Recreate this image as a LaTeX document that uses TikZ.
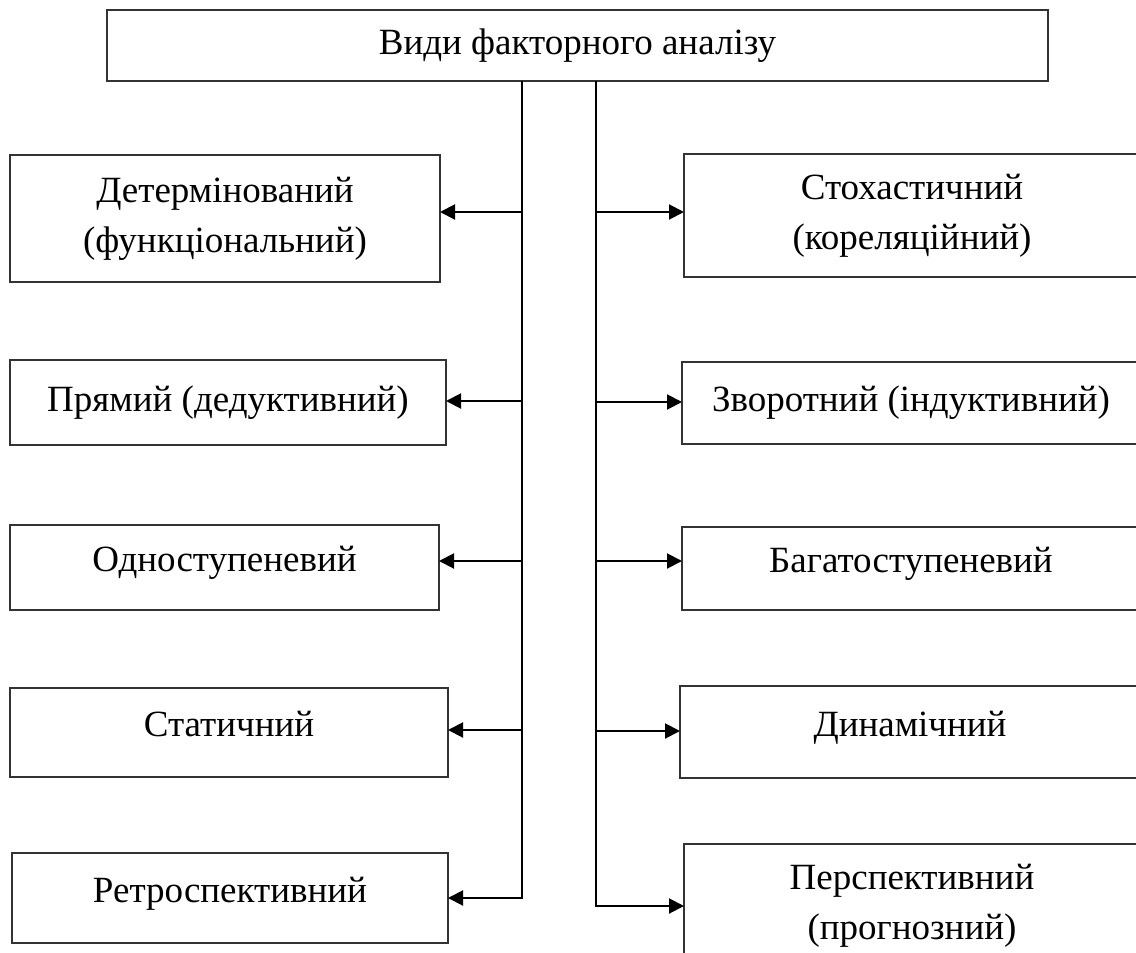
\documentclass[tikz,border=0pt]{standalone}
\usepackage{fontspec}
\setmainfont{Liberation Serif}
\usetikzlibrary{arrows.meta}
\begin{document}
\begin{tikzpicture}[x=0.5pt,y=-0.5pt,
    box/.style={draw=black!80,line width=0.6pt,inner sep=0pt,outer sep=0pt,align=center,
      font=\fontsize{18.5}{25}\selectfont},
    high/.style={text height=12.5pt,text depth=8.5pt},
    arr/.style={draw=black,line width=1pt,-{Triangle[length=7.5pt,width=7.5pt]}}]
    \clip (0,0) rectangle (1136,953);
    % root
    \node[box,minimum width=470.5pt,minimum height=35.5pt] (top) at (577.5,45.5) {Види факторного аналізу};
    % left column
    \node[box,minimum width=215pt,minimum height=63.5pt] (l1) at (225,218.5) {Детермінований\\(функціональний)};
    \node[box,minimum width=218pt,minimum height=42.5pt] (l2) at (228,402.5) {Прямий (дедуктивний)};
    \node[box,high,minimum width=214.5pt,minimum height=42.5pt] (l3) at (224.5,567.5) {Одноступеневий};
    \node[box,high,minimum width=219pt,minimum height=44.5pt] (l4) at (229,732.5) {Статичний};
    \node[box,high,minimum width=218pt,minimum height=45pt] (l5) at (230,898) {Ретроспективний};
    % right column
    \node[box,minimum width=228pt,minimum height=61.5pt] (r1) at (912,215.5) {Стохастичний\\(кореляційний)};
    \node[box,minimum width=229pt,minimum height=41pt] (r2) at (911,403) {Зворотний (індуктивний)};
    \node[box,high,minimum width=229pt,minimum height=41.5pt] (r3) at (911,568.5) {Багатоступеневий};
    \node[box,high,minimum width=230pt,minimum height=46pt] (r4) at (910,732) {Динамічний};
    \node[box,minimum width=228pt,minimum height=61.5pt] (r5) at (912,905.5) {Перспективний\\(прогнозний)};
    % branch points
    \coordinate (al1) at (522,212); \coordinate (ar1) at (596,212);
    \coordinate (al2) at (522,401); \coordinate (ar2) at (596,402);
    \coordinate (al3) at (522,561); \coordinate (ar3) at (596,561);
    \coordinate (al4) at (522,730); \coordinate (ar4) at (596,731);
    \coordinate (al5) at (522,898); \coordinate (ar5) at (596,906);
    % connectors
    \draw[arr] (top.south -| al5) -- (al5) -- (al5 -| l5.east);
    \draw[arr] (top.south -| ar5) -- (ar5) -- (ar5 -| r5.west);
    \draw[arr] (al1) -- (al1 -| l1.east); \draw[arr] (ar1) -- (ar1 -| r1.west);
    \draw[arr] (al2) -- (al2 -| l2.east); \draw[arr] (ar2) -- (ar2 -| r2.west);
    \draw[arr] (al3) -- (al3 -| l3.east); \draw[arr] (ar3) -- (ar3 -| r3.west);
    \draw[arr] (al4) -- (al4 -| l4.east); \draw[arr] (ar4) -- (ar4 -| r4.west);
  \end{tikzpicture}
\end{document}
